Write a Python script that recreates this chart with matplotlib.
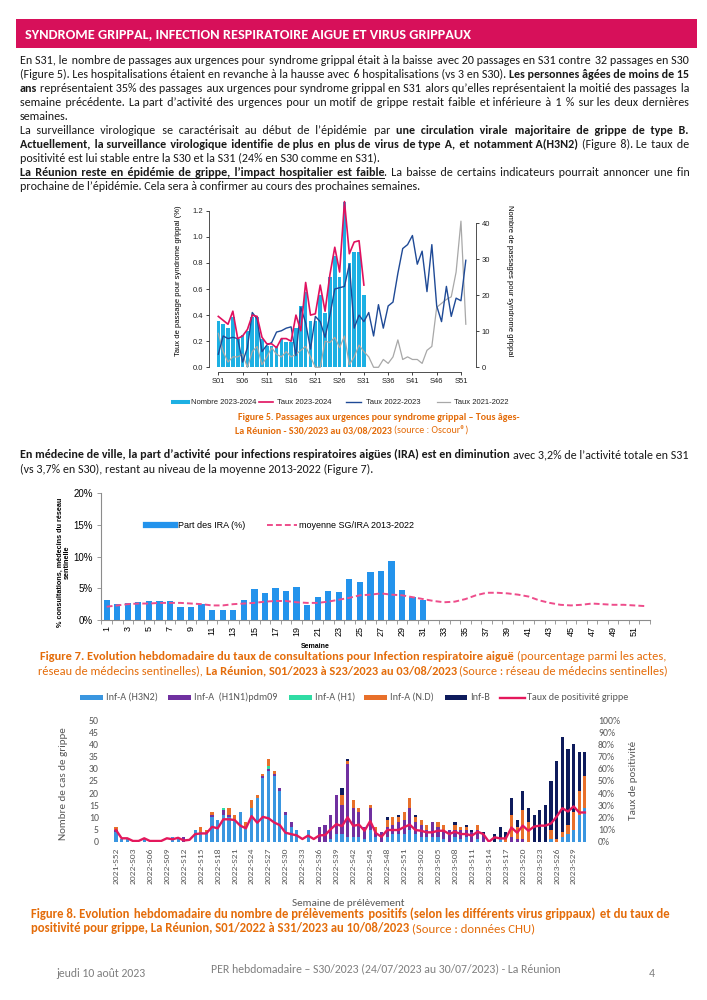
import matplotlib
matplotlib.use("Agg")
import matplotlib.pyplot as plt
from matplotlib import font_manager as fm
from matplotlib.lines import Line2D
from matplotlib.patches import Rectangle
import numpy as np

W, H = 707, 1000

installed = {f.name for f in fm.fontManager.ttflist}
BODY = next((n for n in ["Carlito", "Lato", "Open Sans"] if n in installed), "DejaVu Sans")
ARIAL = "Liberation Sans" if "Liberation Sans" in installed else "DejaVu Sans"

PINK_HEAD = "#D7105A"
ORANGE = "#E46C0A"
INK = "#1a1a1a"

# ---------------- Figure 5 : passages aux urgences (Oscour) ----------------
weeks52 = np.arange(1, 53)
nombre_2023 = [13, 12, 11, 14, 8, 9, 10, 14, 14, 8, 6, 6, 6, 8, 7, 7, 11, 17, 21, 13,
               13, 20, 15, 25, 31, 25, 46, 29, 32, 32, 20]
taux_2023 = [0.39, 0.36, 0.33, 0.43, 0.22, 0.24, 0.29, 0.40, 0.39, 0.23, 0.18, 0.18, 0.15,
             0.22, 0.22, 0.20, 0.40, 0.28, 0.65, 0.40, 0.41, 0.63, 0.43, 0.71, 0.92, 0.73,
             1.27, 0.87, 0.96, 0.97, 0.63]
taux_2022 = [0.10, 0.24, 0.22, 0.23, 0.22, 0.04, 0.15, 0.42, 0.37, 0.12, 0.17, 0.19, 0.27,
             0.28, 0.30, 0.31, 0.09, 0.46, 0.34, 0.14, 0.39, 0.35, 0.23, 0.40, 0.60, 0.61,
             0.62, 0.79, 0.30, 0.40, 0.35, 0.42, 0.24, 0.48, 0.30, 0.47, 0.50, 0.72, 0.91,
             0.94, 1.01, 0.79, 0.89, 0.58, 0.94, 0.47, 0.35, 0.62, 0.39, 0.53, 0.51, 0.82]
taux_2021 = [0.26, 0.12, 0.04, 0.08, 0.08, 0.10, 0.00, 0.12, 0.16, 0.02, 0.08, 0.15, 0.10,
             0.08, 0.12, 0.08, 0.10, 0.13, 0.16, 0.08, 0.00, 0.00, 0.20, 0.19, 0.23, 0.15,
             0.24, 0.02, 0.08, 0.17, 0.12, 0.08, 0.00, 0.00, 0.06, 0.03, 0.08, 0.21, 0.06,
             0.08, 0.06, 0.06, 0.03, 0.13, 0.16, 0.46, 0.49, 0.52, 0.54, 0.73, 1.12, 0.33]
s_ticks = [1, 6, 11, 16, 21, 26, 31, 36, 41, 46, 51]

# ---------------- Figure 7 : IRA medecins sentinelles ----------------
part_ira = [3.1, 2.5, 2.7, 2.9, 3.0, 3.0, 3.0, 2.1, 2.1, 2.5, 1.5, 1.6, 1.6, 3.1, 4.9, 4.3,
            5.0, 4.5, 5.2, 2.4, 3.6, 4.6, 4.4, 6.4, 6.0, 7.5, 7.7, 9.3, 4.7, 3.7, 3.2]
moyenne_ira = [2.1, 2.3, 2.5, 2.6, 2.6, 2.7, 2.7, 2.7, 2.6, 2.5, 2.3, 2.3, 2.5, 2.6, 2.7, 2.9,
               3.0, 3.0, 2.8, 2.7, 2.7, 2.9, 3.2, 3.5, 3.9, 4.0, 4.2, 4.0, 3.9, 3.6, 3.3, 3.0,
               2.8, 2.9, 3.3, 3.9, 4.3, 4.3, 4.2, 4.0, 3.7, 3.1, 2.7, 2.4, 2.3, 2.4, 2.6, 2.5,
               2.4, 2.4, 2.3, 2.2]

# ---------------- Figure 8 : virologie CHU ----------------
semaines = (["2021-S52"] + [f"2022-S{w:02d}" for w in range(1, 53)]
            + [f"2023-S{w:02d}" for w in range(1, 32)])
inf_h3n2 = [4, 1, 1, 0, 0, 1, 0, 0, 0, 0, 2, 1,
            0, 0, 5, 4, 4, 10, 9, 11, 10, 9, 12, 6,
            14, 18, 26, 29, 27, 21, 11, 6, 5, 0, 5, 0,
            0, 0, 1, 3, 3, 2, 2, 2, 1, 5, 2, 0,
            2, 3, 3, 3, 5, 3, 2, 2, 2, 2, 1, 0,
            2, 1, 2, 0, 1, 0, 0, 0, 1, 0, 0, 0,
            0, 0, 0, 0, 0, 1, 0, 2, 3, 5, 11, 14]
inf_h1n1 = [1, 0, 0, 0, 0, 0, 0, 0, 0, 0, 0, 0,
            2, 0, 0, 0, 0, 1, 0, 2, 1, 0, 0, 0,
            0, 0, 1, 1, 1, 1, 1, 2, 0, 0, 0, 0,
            6, 7, 10, 16, 12, 30, 12, 10, 5, 9, 2, 4,
            4, 4, 5, 6, 9, 5, 5, 3, 6, 4, 4, 5,
            3, 4, 3, 4, 4, 3, 0, 0, 0, 0, 2, 1,
            1, 0, 0, 0, 0, 0, 0, 0, 0, 0, 0, 0]
inf_h1 = [0, 0, 0, 0, 0, 0, 0, 0, 0, 0, 0, 0,
          0, 0, 0, 0, 0, 0, 0, 1, 0, 0, 0, 0,
          0, 0, 0, 1, 0, 0, 0, 0, 0, 0, 0, 0,
          0, 0, 0, 0, 0, 0, 0, 0, 0, 0, 0, 0,
          0, 0, 0, 0, 0, 0, 0, 0, 0, 0, 0, 0,
          0, 0, 0, 0, 0, 0, 0, 0, 0, 0, 0, 0,
          0, 0, 0, 0, 0, 0, 0, 0, 0, 0, 0, 0]
inf_nd = [1, 0, 0, 0, 0, 0, 0, 0, 0, 0, 0, 0,
          0, 0, 0, 2, 1, 1, 0, 0, 3, 2, 0, 2,
          3, 1, 1, 3, 1, 0, 0, 0, 0, 0, 0, 0,
          0, 0, 0, 0, 4, 1, 3, 2, 0, 1, 2, 0,
          3, 3, 2, 3, 4, 2, 2, 2, 0, 2, 2, 0,
          2, 1, 1, 0, 2, 0, 0, 0, 0, 1, 9, 5,
          12, 8, 0, 0, 0, 4, 1, 2, 4, 7, 10, 13]
inf_b = [0, 0, 0, 0, 0, 0, 0, 0, 0, 0, 0, 0,
         0, 0, 0, 0, 0, 0, 0, 0, 0, 0, 0, 0,
         0, 0, 0, 0, 0, 0, 0, 0, 0, 0, 0, 0,
         0, 0, 0, 0, 3, 1, 0, 0, 0, 0, 0, 0,
         1, 0, 1, 0, 0, 1, 0, 0, 0, 0, 0, 0,
         1, 0, 1, 1, 0, 1, 0, 3, 5, 3, 7, 3,
         8, 6, 11, 13, 15, 20, 32, 39, 31, 28, 16, 10]
positivite = [9.6, 2.8, 2.8, 0.6, 0.6, 2.8, 0.6, 0.6, 0.6, 2.8, 2, 3.2, 1, 1.5, 6.2, 6.8,
              6.8, 12.2, 11, 18.4, 18.4, 17.8, 13.2, 11, 21, 15.6, 20.4, 19.2, 15.8, 13.6,
              7.4, 6.2, 5.2, 2.2, 5, 2.2, 5.2, 5.4, 10.2, 14.4, 12.8, 20, 13, 14,
              9, 17, 7, 4, 9.6, 9.6, 9.6, 12, 14, 9.6, 9, 7.7, 7.7, 9, 9, 6.3, 8.2, 6.3,
              6.3, 5, 8.2, 6.3, 0, 3.6, 2.7, 2.7, 11.6, 7.4, 13.2, 9, 12.4, 13.2, 13.2,
              15, 20.6, 27.5, 24.8, 29, 24, 24]

# ---------------- page helpers ----------------
fig = plt.figure(figsize=(W / 100, H / 100), dpi=100)
fig.patch.set_facecolor("white")
renderer = fig.canvas.get_renderer()
HAIR = "\u200a"


def fy(y):
    return 1 - y / H


def box(x0, y0, x1, y1):
    return [x0 / W, 1 - y1 / H, (x1 - x0) / W, (y1 - y0) / H]


_cache = {}


def fam(family):
    return [family, "DejaVu Sans"]


def text_w(s, size, bold, family):
    k = (s, round(size, 3), bold, family)
    if k not in _cache:
        t = fig.text(0, 0, s, fontsize=size, fontweight="bold" if bold else "normal",
                     family=fam(family))
        _cache[k] = t.get_window_extent(renderer=renderer).width
        t.remove()
    return _cache[k]


def tokens(segs):
    out, space = [], False
    for seg in segs:
        text, bold = seg[0], seg[1]
        ul = seg[2] if len(seg) > 2 else False
        for j, p in enumerate(text.split(" ")):
            if j > 0:
                space = True
            if p:
                out.append((p, bold, ul, space and bool(out)))
                space = False
    return out


def space_w(size, family, bold=False, ch=" "):
    return text_w("a" + ch + "a", size, bold, family) - text_w("aa", size, bold, family)


def line_w(segs, size, family):
    toks = tokens(segs)
    return (sum(text_w(t[0], size, t[1], family) for t in toks)
            + space_w(size, family) * sum(t[3] for t in toks))


def fit(segs, width, family, base=10.0):
    return base * width / line_w(segs, base, family)


def rich(segs, y, x0, x1, size, family, color, mode="left"):
    toks = tokens(segs)
    widths = [text_w(t[0], size, t[1], family) for t in toks]
    sp = space_w(size, family)
    ngaps = sum(t[3] for t in toks)
    total = sum(widths) + sp * ngaps
    if mode == "justify" and ngaps:
        sp = (x1 - x0 - sum(widths)) / ngaps
        x = x0
    elif mode == "center":
        x = (x0 + x1) / 2 - total / 2
    else:
        x = x0
    # target start position of every word
    xs = []
    for (word, bold, ul, gap), w in zip(toks, widths):
        if gap:
            x += sp
        xs.append(x)
        x += w
    # one text object per run of same style, gaps widened with hair spaces
    runs = []
    for i, t in enumerate(toks):
        if i and (t[1], t[2]) == (toks[i - 1][1], toks[i - 1][2]):
            runs[-1].append(i)
        else:
            runs.append([i])
    for run in runs:
        i0 = run[0]
        bold, ul = toks[i0][1], toks[i0][2]
        nsp = space_w(size, family, bold)
        hw = max(space_w(size, family, bold, HAIR), 0.05)
        s = toks[i0][0]
        cur = xs[i0] + widths[i0]
        for i in run[1:]:
            if toks[i][3]:
                k = max(0, int(round((xs[i] - cur - nsp) / hw)))
                s += " " + HAIR * k
                cur += nsp + k * hw
            s += toks[i][0]
            cur += widths[i]
        fig.text(xs[i0] / W, fy(y), s, fontsize=size, family=fam(family), color=color,
                 fontweight="bold" if bold else "normal", ha="left", va="baseline")
        if ul:
            fig.add_artist(Line2D([xs[i0] / W, cur / W], [fy(y + 1.8)] * 2, lw=0.7,
                                  color=color, transform=fig.transFigure))


def block(lines, x0, x1, family, color, modes, ys, size=None):
    if size is None:
        size = min(fit(l, x1 - x0, family) for l, m in zip(lines, modes) if m == "justify")
    for l, m, y in zip(lines, modes, ys):
        rich(l, y, x0, x1, size, family, color, m)
    return size


# ---------------- header ----------------
fig.add_artist(Rectangle((16 / W, fy(48)), (697 - 16) / W, 29 / H, transform=fig.transFigure,
                         color=PINK_HEAD, lw=0))
head = [("SYNDROME GRIPPAL, INFECTION RESPIRATOIRE AIGUE ET VIRUS GRIPPAUX", True)]
rich(head, 38, 25, 470, fit(head, 445, BODY), BODY, "white")

# ---------------- body text ----------------
para1 = [
    [("En S31, le nombre de passages aux urgences pour syndrome grippal était à la baisse avec 20 passages en S31 contre 32 passages en S30", False)],
    [("(Figure 5). Les hospitalisations étaient en revanche à la hausse avec 6 hospitalisations (vs 3 en S30). ", False), ("Les personnes âgées de moins de 15", True)],
    [("ans", True), (" représentaient 35% des passages aux urgences pour syndrome grippal en S31 alors qu’elles représentaient la moitié des passages la", False)],
    [("semaine précédente. La part d’activité des urgences pour un motif de grippe restait faible et inférieure à 1 % sur les deux dernières", False)],
    [("semaines.", False)],
    [("La surveillance virologique se caractérisait au début de l’épidémie par ", False), ("une circulation virale majoritaire de grippe de type B.", True)],
    [("Actuellement, la surveillance virologique identifie de plus en plus de virus de type A, et notamment A(H3N2)", True), (" (Figure 8). Le taux de", False)],
    [("positivité est lui stable entre la S30 et la S31 (24% en S30 comme en S31).", False)],
    [("La Réunion reste en épidémie de grippe, l’impact hospitalier est faible", True, True), (". La baisse de certains indicateurs pourrait annoncer une fin", False)],
    [("prochaine de l’épidémie. Cela sera à confirmer au cours des prochaines semaines.", False)],
]
modes1 = ["justify", "justify", "justify", "justify", "left", "justify", "justify", "left", "justify", "left"]
ys1 = [64, 78, 92, 106, 120, 134, 148, 162, 176, 190]
body_size = block(para1, 20, 689, BODY, INK, modes1, ys1)

para2 = [
    [("En médecine de ville, la part d’activité pour infections respiratoires aigües (IRA) est en diminution", True), (" avec 3,2% de l’activité totale en S31", False)],
    [("(vs 3,7% en S30), restant au niveau de la moyenne 2013-2022 (Figure 7).", False)],
]
block(para2, 20, 689, BODY, INK, ["justify", "left"], [458, 473], size=body_size)

# ---------------- Figure 5 ----------------
ax5 = fig.add_axes(box(209, 197, 476, 372))
ax5b = ax5.twinx()
ax5.set_zorder(ax5b.get_zorder() + 1)
ax5.patch.set_visible(False)
ax5.set_xlim(-0.916, 54.10)
ax5.set_ylim(-0.036, 1.305)
ax5b.set_ylim(-0.036 * 36.25, 1.305 * 36.25)

ax5b.bar(weeks52[:len(nombre_2023)], nombre_2023, width=0.74, color="#1DB0E3", lw=0)
ax5.plot(weeks52, taux_2021, color="#A8A8A8", lw=0.9)
ax5.plot(weeks52, taux_2022, color="#1F4A96", lw=1.0)
ax5.plot(weeks52[:len(taux_2023)], taux_2023, color="#E0115F", lw=1.2)

for a in (ax5, ax5b):
    a.spines["top"].set_visible(False)
    for s in a.spines.values():
        s.set_linewidth(0.6)
        s.set_color("#333333")
ax5.spines["right"].set_visible(False)
ax5b.spines["left"].set_visible(False)
ax5b.spines["bottom"].set_visible(False)
ax5.spines["left"].set_bounds(0, 1.2)
ax5.spines["bottom"].set_bounds(1, 51)
ax5b.spines["right"].set_bounds(0, 40)
ax5.set_xticks(s_ticks)
ax5.set_xticklabels([f"S{w:02d}" for w in s_ticks], family=ARIAL)
ax5.set_yticks(np.arange(0, 1.21, 0.2))
ax5.set_yticklabels([f"{v:.1f}" for v in np.arange(0, 1.21, 0.2)], family=ARIAL)
ax5b.set_yticks(range(0, 41, 10))
ax5.tick_params(labelsize=5.5, length=2.5, width=0.6, pad=1.5, colors="#222222")
ax5b.tick_params(labelsize=5.5, length=2.5, width=0.6, pad=1.5, colors="#222222")
for t in ax5b.get_yticklabels():
    t.set_family(ARIAL)
ax5.set_ylabel("Taux de passage pour syndrome grippal (%)", fontsize=5.5, family=ARIAL)
ax5.yaxis.set_label_coords(-0.100, 0.52)
ax5b.set_ylabel("Nombre de passages pour syndrome grippal", fontsize=5.5, family=ARIAL,
                rotation=270, va="center")
ax5b.yaxis.set_label_coords(1.127, 0.52)

# legend of figure 5
leg5 = [(173, 188, "#1DB0E3", 2.9, "Nombre 2023-2024", 191),
        (259, 273, "#E0115F", 1.2, "Taux 2023-2024", 277),
        (346, 361, "#1F4A96", 1.0, "Taux 2022-2023", 366),
        (437, 450, "#A8A8A8", 0.9, "Taux 2021-2022", 454)]
for x0, x1, c, lw, lab, xt in leg5:
    fig.add_artist(Line2D([x0 / W, x1 / W], [fy(402)] * 2, color=c, lw=lw, transform=fig.transFigure))
    fig.text(xt / W, fy(402), lab, fontsize=5.5, family=ARIAL, va="center", ha="left", color="#222222")

cap5a = [("Figure 5. Passages aux urgences pour syndrome grippal – Tous âges-", True)]
cap5b = [("La Réunion - S30/2023 au 03/08/2023 ", True), ("(source : Oscour®)", False)]
cap5_size = fit(cap5a, 280, BODY)
rich(cap5a, 420, 239, 519, cap5_size, BODY, ORANGE, "center")
rich(cap5b, 434, 213, 490, cap5_size, BODY, ORANGE, "center")

# ---------------- Figure 7 ----------------
weeks_ira = np.arange(1, 53)
ax7 = fig.add_axes(box(101.4, 493.3, 650, 620))
ax7.bar(weeks_ira[:len(part_ira)], part_ira, width=0.6, color="#2393EC", lw=0)
ax7.plot(weeks_ira, moyenne_ira, color="#EE4D8B", lw=1.4, ls=(0, (3, 1.6)))
ax7.set_xlim(0.5, 52.5)
ax7.set_ylim(0, 20)
for s in ["top", "right"]:
    ax7.spines[s].set_visible(False)
for s in ["left", "bottom"]:
    ax7.spines[s].set_color("#8c8c8c")
    ax7.spines[s].set_linewidth(0.8)
ax7.set_yticks([0, 5, 10, 15, 20])
ax7.set_yticklabels(["0%", "5%", "10%", "15%", "20%"], family=ARIAL)
odd = weeks_ira[::2]
ax7.set_xticks(odd)
ax7.set_xticklabels([str(w) for w in odd], rotation=90, family=ARIAL)
ax7.set_xticks(np.arange(0.5, 53, 1), minor=True)
ax7.tick_params(axis="x", which="major", length=0, pad=4, labelsize=6.5)
ax7.tick_params(axis="x", which="minor", length=3, width=0.6, color="#8c8c8c")
ax7.tick_params(axis="y", length=3, width=0.6, color="#8c8c8c", labelsize=7, pad=3)
fig.text(315 / W, fy(646), "Semaine", fontsize=5, fontweight="bold", family=ARIAL,
         ha="center", va="center")
fig.text(64 / W, fy(562), "% consultations, médecins du réseau\nsentinelle", fontsize=5.2,
         fontweight="bold", family=ARIAL, rotation=90, ha="center", va="center", linespacing=1.0)
fig.add_artist(Line2D([146 / W, 175 / W], [fy(525)] * 2, color="#2393EC", lw=4.5,
                      transform=fig.transFigure))
fig.text(178 / W, fy(525), "Part des IRA (%)", fontsize=6.5, family=ARIAL, va="center")
fig.add_artist(Line2D([267 / W, 297 / W], [fy(525)] * 2, color="#EE4D8B", lw=1.4,
                      ls=(0, (3, 1.6)), transform=fig.transFigure))
fig.text(299 / W, fy(525), "moyenne SG/IRA 2013-2022", fontsize=6.5, family=ARIAL, va="center")

cap7 = [
    [("Figure 7. Evolution hebdomadaire du taux de consultations pour Infection respiratoire aiguë", True), (" (pourcentage parmi les actes,", False)],
    [("réseau de médecins sentinelles), ", False), ("La Réunion, S01/2023 à S23/2023 au 03/08/2023", True), (" (Source : réseau de médecins sentinelles)", False)],
]
cap7_size = fit(cap7[0], 626, BODY)
rich(cap7[0], 660, 40, 666, cap7_size, BODY, ORANGE, "center")
rich(cap7[1], 674, 40, 666, cap7_size, BODY, ORANGE, "center")

# ---------------- Figure 8 ----------------
x8 = np.arange(len(semaines))
ax8 = fig.add_axes(box(112.6, 720, 588.3, 841.7))
series8 = [(inf_h3n2, "#3A96E0", "Inf-A (H3N2)"),
           (inf_h1n1, "#7030A0", "Inf-A  (H1N1)pdm09"),
           (inf_h1, "#2FDCA4", "Inf-A (H1)"),
           (inf_nd, "#E8702A", "Inf-A (N.D)"),
           (inf_b, "#0E1B5C", "Inf-B")]
bottom = np.zeros(len(semaines))
for vals, c, lab in series8:
    ax8.bar(x8, vals, bottom=bottom, width=0.55, color=c, lw=0, label=lab)
    bottom += np.array(vals)
ax8.set_xlim(-0.6, 83.6)
ax8.set_ylim(0, 50)
ax8b = ax8.twinx()
ax8b.plot(x8, positivite, color="#E4185C", lw=1.7)
ax8b.set_ylim(0, 100)
for a in (ax8, ax8b):
    for s in a.spines.values():
        s.set_visible(False)
GRAY = "#595959"
ax8.set_yticks(range(0, 51, 5))
ax8.set_yticklabels([str(v) for v in range(0, 51, 5)], family=BODY)
ax8b.set_yticks(range(0, 101, 10))
ax8b.set_yticklabels([f"{v}%" for v in range(0, 101, 10)], family=BODY)
ax8.set_xticks(x8[::3])
ax8.set_xticklabels(semaines[::3], rotation=90, family=BODY)
ax8.tick_params(axis="x", length=0, pad=4, labelsize=6.8, colors=GRAY)
ax8.tick_params(axis="y", length=0, pad=10, labelsize=7, colors=GRAY)
ax8b.tick_params(axis="y", length=0, pad=7, labelsize=7, colors=GRAY)
fig.text(63 / W, fy(784), "Nombre de cas de grippe", rotation=90, fontsize=8, family=BODY,
         color=GRAY, ha="center", va="center")
fig.text(633 / W, fy(780), "Taux de positivité", rotation=90, fontsize=8, family=BODY,
         color=GRAY, ha="center", va="center")
fig.text(348 / W, fy(904), "Semaine de prélèvement", fontsize=8, family=BODY, color=GRAY,
         ha="center", va="center")

leg8 = [(80, 103, "#3A96E0", "Inf-A (H3N2)", 106),
        (168, 191, "#7030A0", "Inf-A  (H1N1)pdm09", 194),
        (289, 312, "#2FDCA4", "Inf-A (H1)", 315),
        (364, 387, "#E8702A", "Inf-A (N.D)", 390),
        (445, 467, "#0E1B5C", "Inf-B", 470)]
for x0, x1, c, lab, xt in leg8:
    fig.add_artist(Rectangle((x0 / W, fy(700)), (x1 - x0) / W, 5 / H, color=c, lw=0,
                             transform=fig.transFigure))
    fig.text(xt / W, fy(697.5), lab, fontsize=7.3, family=BODY, color=GRAY, va="center")
fig.add_artist(Line2D([500 / W, 525 / W], [fy(697.5)] * 2, color="#E4185C", lw=1.7,
                      transform=fig.transFigure))
fig.text(527 / W, fy(697.5), "Taux de positivité grippe", fontsize=7.3, family=BODY,
         color=GRAY, va="center")

cap8 = [
    [("Figure 8. Evolution hebdomadaire du nombre de prélèvements positifs (selon les différents virus grippaux) et du taux de", True)],
    [("positivité pour grippe, La Réunion, S01/2022 à S31/2023 au 10/08/2023", True), (" (Source : données CHU)", False)],
]
block(cap8, 31, 670, BODY, ORANGE, ["justify", "left"], [918, 932])

# ---------------- footer ----------------
FOOT = "#808080"
foot_mid = [("PER hebdomadaire – S30/2023 (24/07/2023 au 30/07/2023) - La Réunion", False)]
foot_size = fit(foot_mid, 350, BODY)
rich(foot_mid, 972, 211, 561, foot_size, BODY, FOOT, "center")
rich([("jeudi 10 août 2023", False)], 977, 56, 160, foot_size, BODY, FOOT, "left")
rich([("4", False)], 977, 649, 660, foot_size, BODY, FOOT, "left")

fig.savefig("out.png", dpi=100)
